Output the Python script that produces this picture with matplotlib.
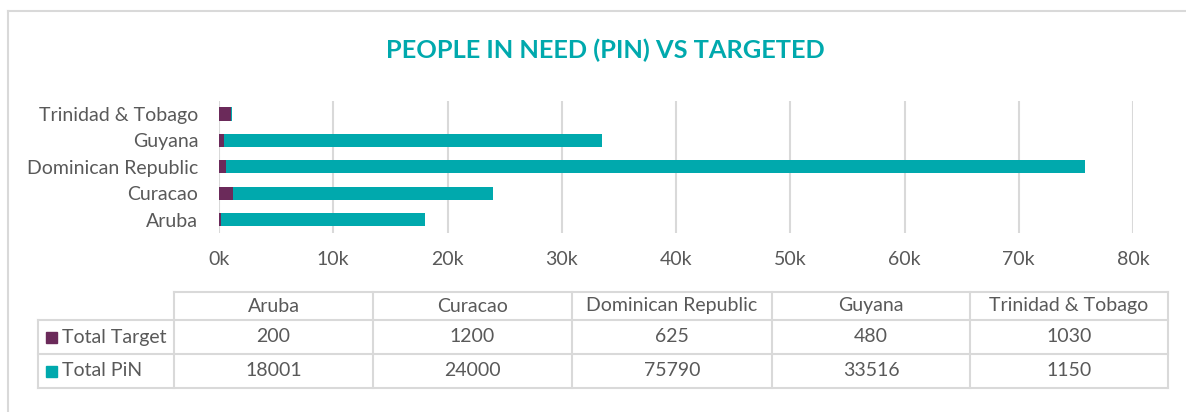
import matplotlib.pyplot as plt
import numpy as np

countries = ["Aruba", "Curacao", "Dominican Republic", "Guyana", "Trinidad & Tobago"]
total_target = [200, 1200, 625, 480, 1030]
total_pin = [18001, 24000, 75790, 33516, 1150]
series_names = ["Total Target", "Total PiN"]
xticks = [0, 10000, 20000, 30000, 40000, 50000, 60000, 70000, 80000]

teal = "#00A9AD"
purple = "#6B2A5A"
grey_txt = "#595959"
grid_c = "#D9D9D9"

plt.rcParams['font.family'] = ['Lato', 'DejaVu Sans']

W, H = 1186, 412
fig = plt.figure(figsize=(W / 100, H / 100), dpi=100)

# overlay in pixel coordinates for border, title and data table
ov = fig.add_axes([0, 0, 1, 1])
ov.set_xlim(0, W)
ov.set_ylim(H, 0)
ov.axis("off")
ov.plot([8, 8], [11, H], color=grid_c, lw=1.5)
ov.plot([8, W], [11, 11], color=grid_c, lw=1.5)
ov.text(605, 50, "PEOPLE IN NEED (PIN) VS TARGETED", color=teal, fontsize=18.3,
        fontweight="bold", ha="center", va="center")

# bar chart
left, right, top, bottom = 219, 1133, 100.7, 233
ax = fig.add_axes([left / W, 1 - bottom / H, (right - left) / W, (bottom - top) / H])
y = np.arange(len(countries))
ax.barh(y, total_pin, height=0.5, color=teal, zorder=2)
ax.barh(y, total_target, height=0.5, color=purple, zorder=3)
ax.set_xlim(0, 80000)
ax.set_ylim(-0.5, len(countries) - 0.5)
ax.set_xticks(xticks)
ax.set_xticklabels([f"{v // 1000}k" for v in xticks])
ax.set_yticks(y)
ax.set_yticklabels(countries)
ax.grid(axis="x", color=grid_c, lw=1.5, zorder=0)
ax.set_axisbelow(True)
for s in ax.spines.values():
    s.set_visible(False)
ax.tick_params(axis="x", length=0, pad=13, labelsize=14, labelcolor=grey_txt)
ax.tick_params(axis="y", length=0, pad=15, labelsize=14, labelcolor=grey_txt)
ax.patch.set_alpha(0)

# data table under the chart
col_x = [174, 373, 572, 772, 970, 1168]
row_y = [292, 320, 354, 388]
lab_left = 38
lw = 1.5
ov.plot([col_x[0], col_x[-1]], [row_y[0], row_y[0]], color=grid_c, lw=lw)
for yy in row_y[1:]:
    ov.plot([lab_left, col_x[-1]], [yy, yy], color=grid_c, lw=lw)
ov.plot([lab_left, lab_left], [row_y[1], row_y[-1]], color=grid_c, lw=lw)
for xx in col_x:
    ov.plot([xx, xx], [row_y[0], row_y[-1]], color=grid_c, lw=lw)

fs = 14
for i, c in enumerate(countries):
    cx = (col_x[i] + col_x[i + 1]) / 2
    ov.text(cx, (row_y[0] + row_y[1]) / 2, c, ha="center", va="center", fontsize=fs, color=grey_txt)
    ov.text(cx, (row_y[1] + row_y[2]) / 2, str(total_target[i]), ha="center", va="center",
            fontsize=fs, color=grey_txt)
    ov.text(cx, (row_y[2] + row_y[3]) / 2, str(total_pin[i]), ha="center", va="center",
            fontsize=fs, color=grey_txt)

for k, (name, col) in enumerate(zip(series_names, [purple, teal])):
    cy = (row_y[k + 1] + row_y[k + 2]) / 2
    ov.add_patch(plt.Rectangle((46, cy - 5.5), 11, 11, color=col))
    ov.text(62, cy, name, ha="left", va="center", fontsize=fs, color=grey_txt)

fig.savefig("out.png", dpi=100)
